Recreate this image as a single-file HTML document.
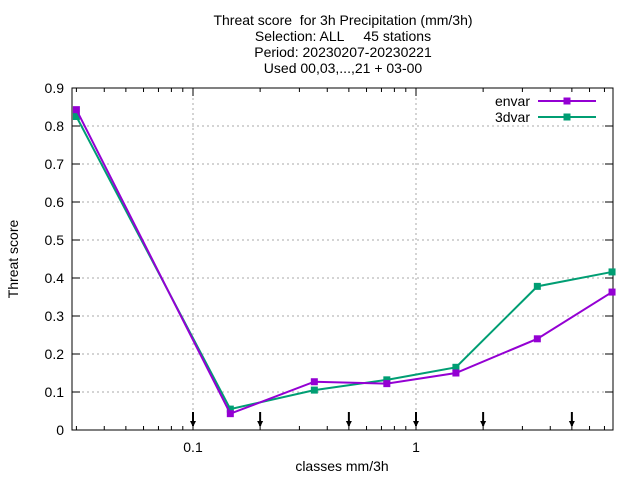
<!DOCTYPE html>
<html><head><meta charset="utf-8"><style>
body{margin:0;background:#fff;font-family:"Liberation Sans",sans-serif}
svg text{font-family:"Liberation Sans",sans-serif;font-size:14px;fill:#000;white-space:pre}
</style></head><body>
<svg id="c" width="640" height="480">
<g>
<text x="343" y="25" text-anchor="middle">Threat score  for 3h Precipitation (mm/3h)</text>
<text x="343" y="41" text-anchor="middle">Selection: ALL     45 stations</text>
<text x="343" y="57" text-anchor="middle">Period: 20230207-20230221</text>
<text x="343" y="73" text-anchor="middle">Used 00,03,...,21 + 03-00</text>
</g>
<text transform="translate(18,259) rotate(-90)" text-anchor="middle">Threat score</text>
<text x="342" y="471" text-anchor="middle">classes mm/3h</text>
<g id="grid"></g><g id="axes"></g><g id="series"></g>
<g>
<text x="530" y="106" text-anchor="end">envar</text>
<text x="530" y="122" text-anchor="end">3dvar</text>
</g>
</svg>
<script>
const categories=[0.03,0.147,0.35,0.74,1.51,3.5,7.57];
const envar=[0.843,0.043,0.127,0.122,0.150,0.240,0.363];
const dvar3=[0.825,0.055,0.105,0.132,0.165,0.378,0.416];
const yTicks=[0,0.1,0.2,0.3,0.4,0.5,0.6,0.7,0.8,0.9];
const yTickLabels=["0","0.1","0.2","0.3","0.4","0.5","0.6","0.7","0.8","0.9"];
const classBounds=[0.1,0.2,0.5,1,2,5];
const L=72,R=613,T=88,B=430;
const X=v=>416+Math.log10(v)*223;
const Y=v=>B-(v/0.9)*(B-T);
const NS="http://www.w3.org/2000/svg";
function mk(t,a,p){const e=document.createElementNS(NS,t);for(const k in a)e.setAttribute(k,a[k]);p.appendChild(e);return e;}
const grid=document.getElementById('grid'),axes=document.getElementById('axes'),ser=document.getElementById('series');
yTicks.forEach((v,i)=>{const y=Y(v);
 if(i>0&&i<yTicks.length-1){const g=mk('line',{x1:L,x2:R,y1:y,y2:y,stroke:'#aaa','stroke-dasharray':'2,3'},grid);
 
 }
 mk('line',{x1:L,x2:L+8,y1:y,y2:y,stroke:'#000'},axes);
 mk('line',{x1:R,x2:R-8,y1:y,y2:y,stroke:'#000'},axes);
 const t=mk('text',{x:L-8,y:y+5,'text-anchor':'end'},axes);t.textContent=yTickLabels[i];
 
 
});
[0.1,1].forEach(v=>{const x=X(v);
 const g=mk('line',{x1:x,x2:x,y1:T,y2:B,stroke:'#aaa','stroke-dasharray':'2,3'},grid);
 
 
 mk('line',{x1:x,x2:x,y1:B,y2:B-8,stroke:'#000'},axes);mk('line',{x1:x,x2:x,y1:T,y2:T+8,stroke:'#000'},axes);
 const t=mk('text',{x:x,y:B+22,'text-anchor':'middle'},axes);t.textContent=String(v);
 
 
});
[0.03,0.04,0.05,0.06,0.07,0.08,0.09,0.2,0.3,0.4,0.5,0.6,0.7,0.8,0.9,2,3,4,5,6,7].forEach(v=>{const x=X(v);
 mk('line',{x1:x,x2:x,y1:B,y2:B-4,stroke:'#000'},axes);mk('line',{x1:x,x2:x,y1:T,y2:T+4,stroke:'#000'},axes);});
mk('rect',{x:L,y:T,width:R-L,height:B-T,fill:'none',stroke:'#000'},axes);
classBounds.forEach(v=>{const x=X(v);
 const a=mk('g',{},axes);
 
 
 mk('line',{x1:x,x2:x,y1:412,y2:426,stroke:'#000','stroke-width':2},a);
 mk('path',{d:`M${x-3},${421}L${x+3},${421}L${x},${427}Z`,fill:'#000'},a);
});
function series(vals,col,name,ly){
 const g=mk('g',{},ser);
 
 
 mk('polyline',{points:vals.map((v,i)=>X(categories[i])+','+Y(v)).join(' '),fill:'none',stroke:col,'stroke-width':2},g);
 vals.forEach((v,i)=>{const p=mk('rect',{x:X(categories[i])-3.5,y:Y(v)-3.5,width:7,height:7,fill:col},g);
 
 });
 mk('line',{x1:538,x2:596,y1:ly,y2:ly,stroke:col,'stroke-width':2},g);
 mk('rect',{x:563.5,y:ly-3.5,width:7,height:7,fill:col},g);
}
series(dvar3,'#009e73','3dvar',117);
series(envar,'#9400d3','envar',101);
</script>
</body></html>
